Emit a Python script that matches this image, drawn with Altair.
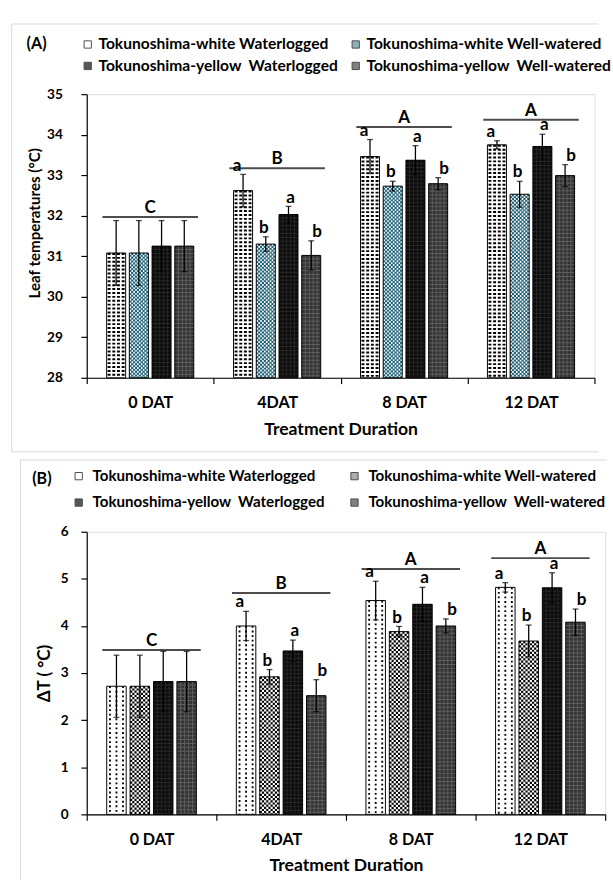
import altair as alt
import pandas as pd

FONT = "Lato"

CATS = ["0 DAT", "4DAT", "8 DAT", "12 DAT"]
SERIES = [
    "Tokunoshima-white Waterlogged",
    "Tokunoshima-white Well-watered",
    "Tokunoshima-yellow\u00a0 Waterlogged",
    "Tokunoshima-yellow\u00a0 Well-watered",
]
LET_WL = ["", "a", "a", "a"]
LET_WW = ["", "b", "b", "b"]
GROUP_LETTERS = ["C", "B", "A", "A"]

# Panel A: leaf temperature (°C)
A_WHITE_WL = [31.08, 32.62, 33.46, 33.75]
A_WHITE_WW = [31.08, 31.30, 32.73, 32.53]
A_YELLOW_WL = [31.25, 32.03, 33.37, 33.71]
A_YELLOW_WW = [31.25, 31.02, 32.79, 32.99]
A_WHITE_WL_SE = [0.80, 0.40, 0.42, 0.10]
A_WHITE_WW_SE = [0.80, 0.18, 0.12, 0.32]
A_YELLOW_WL_SE = [0.63, 0.20, 0.36, 0.30]
A_YELLOW_WW_SE = [0.63, 0.36, 0.15, 0.27]
A_GROUP_Y = [31.97, 33.17, 34.19, 34.37]

# Panel B: delta T (°C)
B_WHITE_WL = [2.72, 4.00, 4.54, 4.82]
B_WHITE_WW = [2.72, 2.92, 3.88, 3.68]
B_YELLOW_WL = [2.82, 3.47, 4.46, 4.81]
B_YELLOW_WW = [2.82, 2.52, 4.00, 4.08]
B_WHITE_WL_SE = [0.66, 0.31, 0.41, 0.10]
B_WHITE_WW_SE = [0.66, 0.155, 0.11, 0.34]
B_YELLOW_WL_SE = [0.64, 0.23, 0.36, 0.32]
B_YELLOW_WW_SE = [0.64, 0.34, 0.15, 0.28]
B_GROUP_Y = [3.49, 4.70, 5.21, 5.44]


def grid_cols(bw, n):
    c = bw / n
    return c, [-bw / 2 + c * (k + 0.5) for k in range(n)]


def build_panel(means, ses, group_y, ydom, yvals, P):
    W, H = P["W"], P["H"]
    rows = []
    for s, m, e, lets in zip(SERIES, means, ses, [LET_WL, LET_WW, LET_WL, LET_WW]):
        for c, mv, ev, lv in zip(CATS, m, e, lets):
            rows.append({"cat": c, "series": s, "value": mv, "lo": mv - ev,
                         "hi": mv + ev, "letter": lv})
    df = pd.DataFrame(rows)
    gdf = pd.DataFrame({"cat": CATS, "gy": group_y, "glet": GROUP_LETTERS})
    one = pd.DataFrame({"k": [0]})

    pi, po = P["pi"], P["po"]
    step = (W / 4) / (4 - pi + 2 * po)
    bw = step * (1 - pi)
    slack = 2 * po * step

    x_axis = alt.Axis(labelAngle=0, labelFont=FONT, labelFontSize=16.5,
                      labelFontWeight="bold", labelColor="black",
                      labelPadding=20, labelBaseline="middle",
                      tickBand="extent", tickSize=6, tickColor="black",
                      tickWidth=1.2, domainColor="black", domainWidth=1.2,
                      titleFont=FONT, titleFontSize=18, titleFontWeight="bold",
                      titleColor="black", titleY=53, titleBaseline="middle",
                      grid=False)
    X = alt.X("cat:N", sort=CATS, title="Treatment Duration",
              scale=alt.Scale(domain=CATS, paddingInner=0, paddingOuter=0),
              axis=x_axis)
    ysc = alt.Scale(domain=ydom, nice=False, zero=False)
    y_axis = alt.Axis(values=yvals, labelFont=FONT, labelFontSize=14,
                      labelFontWeight="bold", labelColor="black",
                      labelPadding=P["ylabpad"], tickSize=6, tickColor="black",
                      tickWidth=1.2, domainColor="black", domainWidth=1.2,
                      titleFont=FONT, titleFontSize=P["ytsize"],
                      titleFontWeight="bold", titleColor="black",
                      titleAngle=270, titleX=P["ytx"], titleY=P["yty"],
                      titleBaseline="middle", titleAlign="center", grid=False)

    def Y(f):
        return alt.Y(f"{f}:Q", scale=ysc, axis=y_axis, title=P["ytitle"])

    def XO(delta=0.0):
        return alt.XOffset("series:N", sort=SERIES,
                           scale=alt.Scale(domain=SERIES, paddingInner=pi,
                                           paddingOuter=po,
                                           align=0.5 + delta / slack))

    layers = []
    # legend-only layer
    layers.append(
        alt.Chart().transform_filter("false").mark_square(size=56).encode(
            x=X, y=Y("value"),
            color=alt.Color("series:N", sort=SERIES, title=None,
                            scale=alt.Scale(domain=SERIES, range=P["legend_colors"]),
                            legend=alt.Legend(orient="none", legendX=P["lx"],
                                              legendY=P["ly"], columns=2,
                                              direction="horizontal",
                                              padding=0, symbolType="square",
                                              symbolSize=56,
                                              symbolStrokeColor="black",
                                              symbolStrokeWidth=1,
                                              labelFont=FONT,
                                              labelFontSize=P["lfs"],
                                              labelFontWeight="bold",
                                              labelColor="black",
                                              labelOffset=P["loff"],
                                              rowPadding=P["rowpad"],
                                              columnPadding=P["colpad"],
                                              labelLimit=P["lablim"])))
    )
    # base fills
    layers.append(
        alt.Chart().mark_bar().encode(
            x=X, xOffset=XO(), y=Y("value"), y2=alt.datum(ydom[0]),
            fill=alt.Fill("series:N", sort=SERIES, legend=None,
                          scale=alt.Scale(domain=SERIES, range=P["base_colors"])))
    )
    # texture patterns (dashed columns inside bars)
    for si, color, sw, dash, deltas, offs in P["patterns"](bw):
        for d, off in zip(deltas, offs):
            layers.append(
                alt.Chart().transform_filter(alt.datum.series == SERIES[si])
                .mark_rule(color=color, strokeWidth=sw, strokeDash=dash,
                           strokeDashOffset=off, strokeCap="butt")
                .encode(x=X, xOffset=XO(d), y=Y("value"), y2=alt.datum(ydom[0]))
            )
    # outlines
    layers.append(
        alt.Chart().mark_bar(fill="transparent", stroke="black", strokeWidth=1)
        .encode(x=X, xOffset=XO(), y=Y("value"), y2=alt.datum(ydom[0]))
    )
    # error bars
    layers.append(
        alt.Chart().mark_rule(color="black", strokeWidth=1.3).encode(
            x=X, xOffset=XO(), y=Y("lo"), y2=alt.Y2("hi:Q"))
    )
    for f in ["hi", "lo"]:
        layers.append(
            alt.Chart().mark_tick(color="black", size=6, thickness=1.3).encode(
                x=X, xOffset=XO(), y=Y(f))
        )
    # significance letters
    layers.append(
        alt.Chart().transform_filter("datum.letter != ''")
        .mark_text(font=FONT, fontSize=17.5, fontWeight="bold", baseline="bottom",
                   color="black")
        .encode(x=X, xOffset=XO(), y=Y("hi"), text="letter:N")
    )
    layers.append(
        alt.Chart(gdf).mark_tick(color="black", size=P["gw"], thickness=2)
        .encode(x=X, y=Y("gy"))
    )
    layers.append(
        alt.Chart(gdf).mark_text(font=FONT, fontSize=17.5, fontWeight="bold",
                                 baseline="bottom", color="black")
        .encode(x=X, y=Y("gy"), text="glet:N")
    )
    # panel frame
    fx, ft, fb, fr = P["frame"]
    fc = "#d9d9d9"
    layers.append(alt.Chart(one).mark_rule(color=fc, strokeWidth=1).encode(
        x=alt.value(fx), x2=alt.value(fr), y=alt.value(ft)))
    layers.append(alt.Chart(one).mark_rule(color=fc, strokeWidth=1).encode(
        x=alt.value(fx), y=alt.value(ft), y2=alt.value(fb)))
    if P["frame_bottom"]:
        layers.append(alt.Chart(one).mark_rule(color=fc, strokeWidth=1).encode(
            x=alt.value(fx), x2=alt.value(fr), y=alt.value(fb)))
    # panel tag
    layers.append(
        alt.Chart(one).mark_text(text=P["tag"], font=FONT, fontSize=16.5,
                                 fontWeight="bold", align="center",
                                 baseline="middle", color="black")
        .encode(x=alt.value(P["tagx"]), y=alt.value(P["tagy"]))
    )
    return (alt.layer(*layers, data=df)
            .resolve_scale(xOffset="independent")
            .properties(width=W, height=H))


def patterns_a(bw):
    c, cols = grid_cols(bw, 10)
    return [
        (0, "black", 3.0, [2.0, 2.0], [-7.2, -2.4, 2.4, 7.2], [0, 0, 0, 0]),
        (1, "white", c * 0.8, [c, c], cols, [0 if k % 2 == 0 else c for k in range(10)]),
        (2, "#0c0c0c", 3, [3, 1], [-8, -4, 0, 4, 8], [0] * 5),
        (3, "#333333", 3, [3, 1], [-8, -4, 0, 4, 8], [0] * 5),
    ]


def patterns_b(bw):
    c, cols = grid_cols(bw, 9)
    return [
        (0, "black", 1.9, [1.9, 2.8], [-6.7, 0, 6.7], [0, 0, 0]),
        (1, "black", c, [c, c], cols, [0 if k % 2 == 0 else c for k in range(9)]),
        (2, "#0c0c0c", 3, [3, 1], [-8, -4, 0, 4, 8], [0] * 5),
        (3, "#333333", 3, [3, 1], [-8, -4, 0, 4, 8], [0] * 5),
    ]


PA = dict(W=521, H=291, pi=0.163, po=0.876, ytitle="Leaf temperatures (°C)",
          ylabpad=19, ytsize=15.5, ytx=-53, yty=132,
          legend_colors=["white", "#5f8f9f", "#111111", "#4d4d4d"],
          base_colors=["white", "#1f6279", "#262626", "#5e5e5e"],
          lx=-7, ly=-59, lfs=16, loff=3, rowpad=6, colpad=10, lablim=252,
          gw=98, frame=(-77, -72, 367, 525), frame_bottom=True,
          tag="(A)", tagx=-51.5, tagy=-51, patterns=patterns_a)
PB = dict(W=532, H=290, pi=0.167, po=0.854, ytitle="ΔT ( °C)",
          ylabpad=13, ytsize=17.5, ytx=-43, yty=145,
          legend_colors=["white", "#8a8a8a", "#111111", "#4d4d4d"],
          base_colors=["white", "white", "#262626", "#5e5e5e"],
          lx=-16, ly=-65.2, lfs=15.5, loff=6.5, rowpad=10.5, colpad=22,
          lablim=252,
          gw=101, frame=(-68, -73.7, 357, 534), frame_bottom=False,
          tag="(B)", tagx=-46, tagy=-53.7, patterns=patterns_b)

panel_a = build_panel([A_WHITE_WL, A_WHITE_WW, A_YELLOW_WL, A_YELLOW_WW],
                      [A_WHITE_WL_SE, A_WHITE_WW_SE, A_YELLOW_WL_SE, A_YELLOW_WW_SE],
                      A_GROUP_Y, [28, 35], list(range(28, 36)), PA)
panel_b = build_panel([B_WHITE_WL, B_WHITE_WW, B_YELLOW_WL, B_YELLOW_WW],
                      [B_WHITE_WL_SE, B_WHITE_WW_SE, B_YELLOW_WL_SE, B_YELLOW_WW_SE],
                      B_GROUP_Y, [0, 6], list(range(0, 7)), PB)

chart = (alt.concat(panel_a, panel_b, columns=1, spacing=6, align="none",
                    bounds="full")
         .resolve_scale(color="independent", fill="independent",
                        xOffset="independent")
         .properties(padding={"left": 11, "top": 12, "right": 0, "bottom": 0},
                     background="white")
         .configure_view(strokeWidth=0)
         .configure(font=FONT))

chart.save("out.html", embed_options={"renderer": "svg", "actions": False})
